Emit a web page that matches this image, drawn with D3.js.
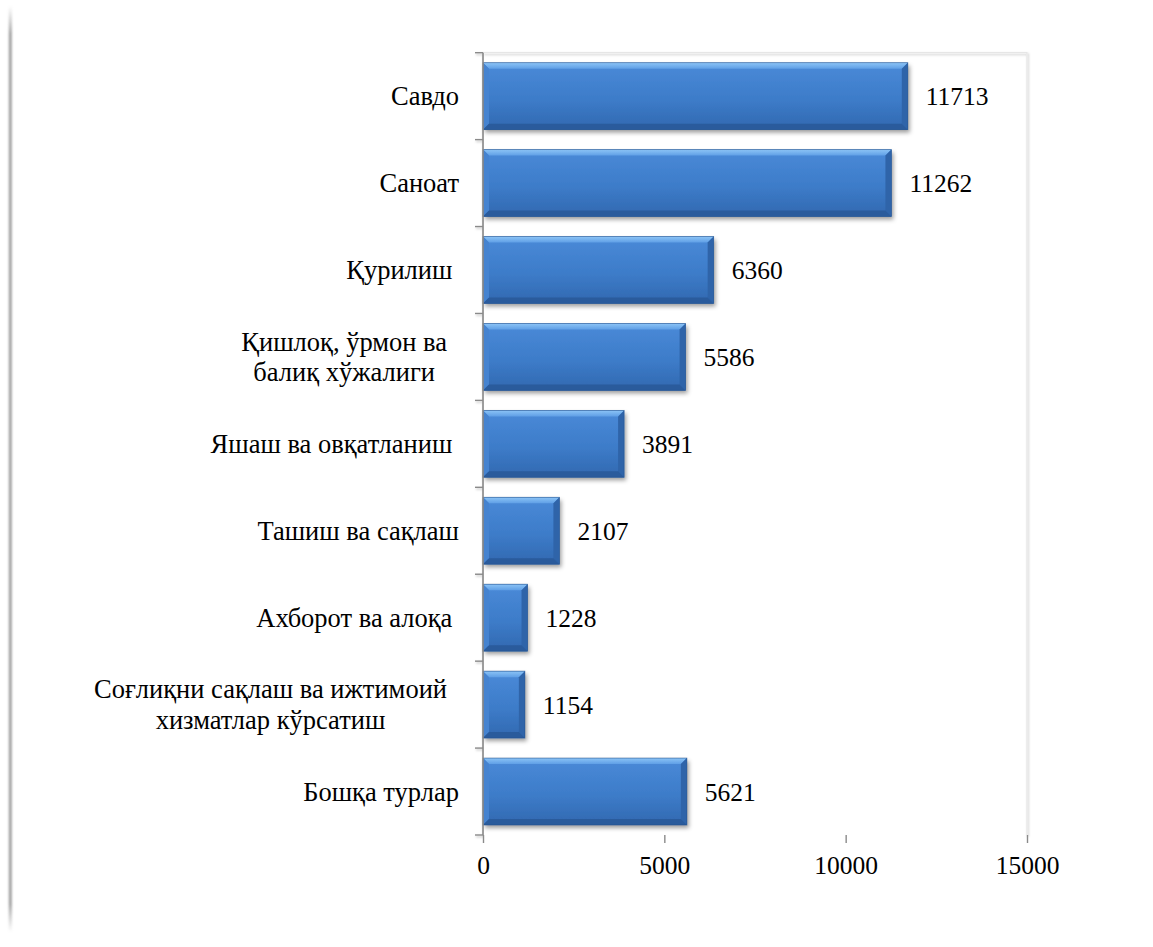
<!DOCTYPE html>
<html>
<head>
<meta charset="utf-8">
<script src="https://cdn.jsdelivr.net/npm/d3@7"></script>
<style>
  html, body { margin: 0; padding: 0; background: #fff; }
  svg { display: block; }
  text { font-family: "Liberation Serif", "Times New Roman", serif; fill: #000; white-space: pre; }
</style>
</head>
<body>
<svg id="chart" width="1153" height="947"></svg>
<script>
// ---- data ----
const categories = [
  "Савдо",
  "Саноат",
  "Қурилиш ",
  "Қишлоқ, ўрмон ва\nбалиқ хўжалиги",
  "Яшаш ва овқатланиш ",
  "Ташиш ва сақлаш",
  "Ахборот ва алоқа ",
  "Соғлиқни сақлаш ва ижтимоий\nхизматлар кўрсатиш",
  "Бошқа турлар"
];
const values = [11713, 11262, 6360, 5586, 3891, 2107, 1228, 1154, 5621];
const xTicks = [0, 5000, 10000, 15000];

// ---- layout ----
const svg = d3.select("#chart");
const plot = { left: 483, right: 1027, top: 52.7, bottom: 835 };
const fontSize = 25.5;
const catFontSize = 26.5;

const x = d3.scaleLinear().domain([0, 15000]).range([plot.left, plot.right]);
const y = d3.scaleBand().domain(categories).range([plot.top, plot.bottom])
  .paddingInner(0.23).paddingOuter(0.115);

const defs = svg.append("defs");
const fg = defs.append("linearGradient").attr("id", "frameGrad").attr("x1", 0).attr("y1", 0).attr("x2", 0).attr("y2", 1);
fg.append("stop").attr("offset", "0%").attr("stop-color", "#a8a8a8").attr("stop-opacity", 0);
fg.append("stop").attr("offset", "3%").attr("stop-color", "#a0a0a0").attr("stop-opacity", 1);
fg.append("stop").attr("offset", "97%").attr("stop-color", "#a0a0a0").attr("stop-opacity", 1);
fg.append("stop").attr("offset", "100%").attr("stop-color", "#a8a8a8").attr("stop-opacity", 0);

const blur = defs.append("filter").attr("id", "softBlur").attr("x", "-100%").attr("y", "-5%").attr("width", "300%").attr("height", "110%");
blur.append("feGaussianBlur").attr("stdDeviation", 0.8);

const shadow = defs.append("filter").attr("id", "barShadow").attr("x", "-10%").attr("y", "-20%").attr("width", "125%").attr("height", "150%");
shadow.append("feDropShadow").attr("dx", 2).attr("dy", 3).attr("stdDeviation", 2.2)
  .attr("flood-color", "#000").attr("flood-opacity", 0.38);

const axShadow = defs.append("filter").attr("id", "axShadow").attr("x", "-5%").attr("y", "-5%").attr("width", "110%").attr("height", "110%");
axShadow.append("feDropShadow").attr("dx", 1).attr("dy", 1.5).attr("stdDeviation", 1)
  .attr("flood-color", "#000").attr("flood-opacity", 0.25);

const faceG = defs.append("linearGradient").attr("id", "faceGrad").attr("x1", 0).attr("y1", 0).attr("x2", 0).attr("y2", 1);
faceG.append("stop").attr("offset", "0%").attr("stop-color", "#4a8ad8");
faceG.append("stop").attr("offset", "55%").attr("stop-color", "#3d7cc9");
faceG.append("stop").attr("offset", "100%").attr("stop-color", "#3168b0");
const topG = defs.append("linearGradient").attr("id", "topGrad").attr("x1", 0).attr("y1", 0).attr("x2", 0).attr("y2", 1);
topG.append("stop").attr("offset", "0%").attr("stop-color", "#8cc4f6");
topG.append("stop").attr("offset", "100%").attr("stop-color", "#5f9fe6");

// outer frame line (left)
svg.append("rect").attr("x", 8.8).attr("y", 6).attr("width", 3).attr("height", 926)
  .attr("fill", "url(#frameGrad)").attr("filter", "url(#softBlur)");

// plot area border (faint, top & right)
svg.append("path")
  .attr("d", `M${plot.left},${plot.top} H${plot.right} V${plot.bottom}`)
  .attr("fill", "none").attr("stroke", "#e6e6e6").attr("stroke-width", 1.2)
  .attr("filter", "url(#axShadow)");

// bars
const b = 6;
const bars = svg.append("g").selectAll("g.bar").data(categories).join("g").attr("class", "bar");
bars.each(function(c, i) {
  const g = d3.select(this);
  const x0 = x(0), x1 = x(values[i]);
  const y0 = y(c), y1 = y(c) + y.bandwidth();
  const bb = Math.min(b, (x1 - x0) / 2);
  g.append("rect").attr("x", x0).attr("y", y0).attr("width", x1 - x0).attr("height", y1 - y0)
    .attr("fill", "url(#faceGrad)").attr("filter", "url(#barShadow)");
  g.append("polygon").attr("points", [[x0, y0], [x1, y0], [x1 - bb, y0 + bb], [x0 + bb, y0 + bb]].join(" "))
    .attr("fill", "url(#topGrad)");
  g.append("polygon").attr("points", [[x0, y0], [x0 + bb, y0 + bb], [x0 + bb, y1 - bb], [x0, y1]].join(" "))
    .attr("fill", "#4583d0");
  g.append("polygon").attr("points", [[x1, y0], [x1 - bb, y0 + bb], [x1 - bb, y1 - bb], [x1, y1]].join(" "))
    .attr("fill", "#2f64a9");
  g.append("polygon").attr("points", [[x0, y1], [x1, y1], [x1 - bb, y1 - bb], [x0 + bb, y1 - bb]].join(" "))
    .attr("fill", "#2a5b9c");
  g.append("rect").attr("x", x0).attr("y", y0).attr("width", x1 - x0).attr("height", y1 - y0)
    .attr("fill", "none").attr("stroke", "#24538f").attr("stroke-opacity", 0.7).attr("stroke-width", 0.8);
});

// value labels
svg.append("g").selectAll("text").data(categories).join("text")
  .attr("x", (c, i) => x(values[i]) + 18)
  .attr("y", c => y(c) + y.bandwidth() / 2 + 9)
  .attr("font-size", fontSize)
  .text((c, i) => values[i]);

// y axis (category)
const step = y.step();
const gy = svg.append("g").attr("filter", "url(#axShadow)");
gy.append("line").attr("x1", plot.left).attr("x2", plot.left).attr("y1", plot.top).attr("y2", plot.bottom)
  .attr("stroke", "#8a8a8a").attr("stroke-width", 1.6);
const bounds = categories.map(c => y(c) - step * y.paddingOuter()).concat([plot.bottom]);
gy.selectAll("line.tk").data(bounds).join("line").attr("class", "tk")
  .attr("x1", plot.left - 8).attr("x2", plot.left).attr("y1", d => d).attr("y2", d => d)
  .attr("stroke", "#8a8a8a").attr("stroke-width", 1.4);

// x axis
const gx = svg.append("g").attr("transform", `translate(0,${plot.bottom})`);
const xAxis = d3.axisBottom(x).tickValues(xTicks).tickSize(8).tickPadding(13).tickFormat(d3.format("d"));
gx.call(xAxis);
gx.select(".domain").attr("stroke", "#8a8a8a").attr("stroke-width", 1.6).attr("d", `M${plot.left},0H${plot.right}`)
  .attr("filter", "url(#axShadow)");
gx.selectAll(".tick line").attr("stroke", "#8a8a8a").attr("stroke-width", 1.4);
gx.selectAll(".tick text").attr("font-size", fontSize).attr("font-family", "Liberation Serif, Times New Roman, serif").attr("fill", "#000");

// category labels
const labelRight = 459;
const lineH = 30.5;
const lg = svg.append("g");
categories.forEach((c) => {
  const lines = c.split("\n");
  const cy = y(c) + y.bandwidth() / 2;
  if (lines.length === 1) {
    lg.append("text").attr("x", labelRight).attr("y", cy + 9).attr("text-anchor", "end")
      .attr("font-size", catFontSize).text(lines[0]);
  } else {
    const ts = lines.map((l, k) => lg.append("text")
      .attr("y", cy + 9 + (k - (lines.length - 1) / 2) * lineH)
      .attr("text-anchor", "middle").attr("font-size", catFontSize).text(l));
    const maxW = d3.max(ts, t => t.node().getComputedTextLength());
    const center = labelRight - 12 - maxW / 2;
    ts.forEach(t => t.attr("x", center));
  }
});
</script>
</body>
</html>
